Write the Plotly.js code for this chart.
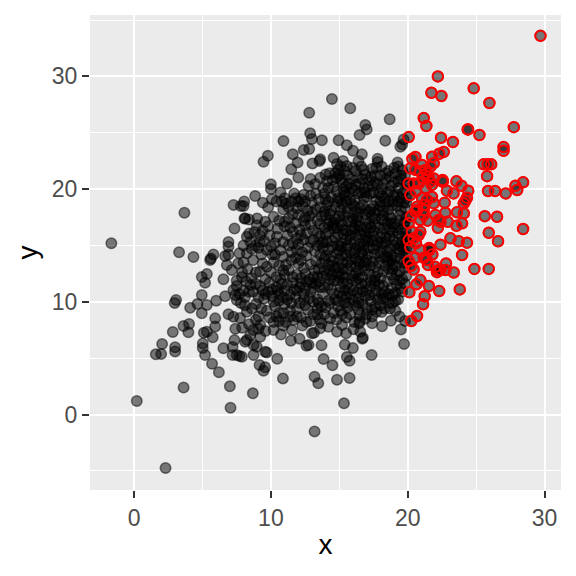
<!DOCTYPE html>
<html><head><meta charset="utf-8">
<script src="https://cdn.plot.ly/plotly-3.0.1.min.js"></script>
<style>html,body{margin:0;padding:0;background:#fff}</style></head>
<body><div id="chart" style="width:576px;height:576px"></div>
<script>
var xTicks=[0,10,20,30];
var yTicks=[0,10,20,30];
var sparseLeft=[[-1.66,15.2],[0.2,1.2],[2.3,-4.75],[3.62,2.4],[3.68,17.9],[3.29,14.4],[4.34,13.98],[1.59,5.34],[1.98,5.37],[2.05,6.26],[3,5.96],[3,5.6],[2.83,7.32],[3.61,7.85],[4.02,8.03],[3.97,7.3],[3.07,10.16],[2.97,9.9],[4.1,9.48],[4.63,9.8],[5.32,9.72],[4.95,8.98],[4.95,10.6],[5.32,12.47],[4.95,12.2],[5.19,11.7],[6.53,12],[5.8,14.2],[5.56,13.7],[5.62,13.85],[6.66,14.06],[6.9,14.2],[6.9,15.3],[6.9,14.9],[7.34,16.5],[7.27,18.6],[8,18.5],[8.07,17.4],[6,10.1],[6.66,10.5],[5.93,8.53],[5.93,7.8],[5.32,7.35],[5.1,7.25],[5.75,6.85],[5.02,6.31],[5.02,5.9],[5.19,5.28],[6.53,5.87],[7.2,6],[7.34,6.6],[8.12,6.46],[7.5,5.28],[7.2,5.28],[7.7,5.2],[5.7,4.5],[6.2,3.75],[7,2.5],[7.05,0.6],[8.68,1.88],[9.58,4.19],[9.46,3.89],[9.17,4.39],[9.58,5.57],[8.73,5.28],[7.88,5.13],[9.7,5.5],[8.97,6.02],[8.24,6.61],[8.73,6.17],[8.49,7.05],[9.22,6.9],[9.22,7.94],[10.19,7.5],[10.19,8.2],[10.92,8.98],[11.65,8.39],[11.53,7.5],[10.88,3.2],[10.46,4.95],[13.19,-1.5],[15.34,1],[13.19,3.36],[13.46,2.77],[14.83,3.09],[15.75,3.24],[13.85,4.92],[14.5,4.36],[15.75,4.77],[15.55,5.1],[17.36,5.28],[15.99,5.9],[15.4,6.2],[13.7,6.14],[19.73,6.26],[18.12,7.83],[18.77,8.32],[16.68,6.73],[16.72,6.8],[16.5,8.27],[16.45,8.1],[12.75,6.16],[12.6,6.1],[11.46,6.55],[12.09,6.73],[10.73,7.1],[13,7.2],[13.15,7.25],[13.6,7.65],[14.2,7.79],[14.83,7.35],[15.2,7.94],[15.5,7.2],[16.04,7.56],[16.53,7.35],[14.34,8.54],[13.55,8.45],[19.5,7.55],[19.8,8.3],[19.4,8.7],[19.1,9.2]];
var upperMiddle=[[14.46,28],[15.8,27.17],[12.8,26.78],[16.9,25.7],[17,25.3],[16.48,24.8],[18.68,26.2],[12.87,24.95],[13,24.45],[10.92,24.27],[13.73,24.33],[14.95,24.33],[15.55,23.9],[16,23.4],[16.65,23.1],[18.36,24.3],[19.7,24.4],[19.46,23.76],[19.6,23.95],[11.6,23.1],[12.4,23.47],[12.8,23.56],[9.78,22.96],[9.46,22.43],[11.95,22.37],[13.04,22.28],[13.6,22.64],[13.55,22.5],[14.58,22.79],[14.83,22.23],[15.27,22.5],[15.55,22.05],[16.4,22.5],[17.8,22.7],[17.8,22.4],[19.26,22.37],[11.49,21.76],[12,21.04],[10,20.43],[10,20],[11.17,20.48],[12.75,20.27],[13.24,20.45],[8.85,19.39],[8.05,18.9],[7.8,18.5],[15,21.25],[9.41,18.8],[9.8,18.4],[10.07,19.1],[8.12,17.4],[8.4,17.3],[8.97,16.8],[9.58,17.1],[10.2,17.55],[9.2,15.9],[8.24,15.77],[8.4,16.05],[8.85,15],[9.7,14.6],[8.24,14.3],[10.43,15.77],[10.92,14]];
var midFill=[[7.5,10.16],[7.26,8.68],[7.75,8.56],[6.9,8.9],[7.26,11.05],[7.5,11.4],[7.4,10.6],[7.8,9.9],[8.24,9.12],[8,11],[7.5,11.9],[7.88,12.2],[6.78,13.27],[7.14,12.82],[7.6,13.4],[8.3,12.9],[8.6,12.1],[8.1,10.4],[8.7,10.9],[8.9,9.8],[9.2,11.4],[9.5,10.3],[9.9,11.7],[9.1,8.7],[9.7,9.2],[10.3,9.6],[10.6,10.7],[11,9.8],[11.4,10.6],[11.2,11.5],[10.4,12.2],[10.9,12.8],[11.6,12.2],[12.1,11.3],[12.4,10.2],[12.7,9.3],[12.9,10.9],[13.3,11.6],[13.5,9.9],[13.1,8.9],[12.2,8.6],[11.9,9.4],[10.6,9],[12.5,12.5],[13.2,12.8],[12,13.4],[11.5,13.7],[10.2,13.5],[9.7,13.1],[9.2,12.7],[8.7,13.7],[9.3,14.2],[10,14.9],[10.7,14.6],[11.3,15],[11.9,14.6],[12.6,14.1],[13.2,14.5],[13.7,13.4],[12.9,15.3],[12.2,15.9],[11.6,16.2],[11,16.7],[10.5,16.5],[9.9,15.9],[9.4,16.3],[12.5,16.8],[13.1,16.3],[13.6,15.8],[11.3,17.4],[12,17.7],[12.8,17.6],[13.4,17.2],[10.9,18.2],[11.5,18.9],[12.3,18.5],[13,18.8],[13.6,18.4],[10.4,18.9],[11.7,19.6],[12.4,19.5],[13.3,19.6],[13.8,20.1],[12.9,20.9],[13.6,21],[14,19.1],[14.1,20.7],[10.7,19.7],[11,19.2],[9.1,14.8],[8.5,15.3],[8,15],[7.7,14.3],[8.8,16.2],[9.6,12],[10.1,10.5],[10.8,11.6],[11.7,11.1],[12.6,11.8],[13.8,10.7],[13.4,10.2],[13.8,12.3],[14,9.5],[14.2,10.1],[13.9,8.9],[12.3,7.9],[11.1,8.2],[8.4,8],[8.9,8.4],[7.9,7.7],[7.4,7.6],[8.2,11.8],[9.1,10.4],[10.6,13.2],[11.9,15.6],[13.8,14.8],[13.9,16.6],[13.3,13.6],[12.4,13],[11.1,13.3],[9.9,8.6]];
var midDark=[[10.8,18.9],[11.3,18.4],[11.6,17.8],[12,18.9],[12.4,17.2],[12.7,18.1],[11,17.1],[11.4,16.6],[11.8,17],[12.1,16.4],[12.6,16.1],[12.9,16.9],[13,17.9],[13.3,18.2],[11.2,15.9],[11.6,15.2],[12,15.1],[12.4,15.5],[12.7,14.8],[13.1,15.5],[10.9,15.3],[12.2,19.1],[12.9,19.4],[13.5,19.1],[13.7,17.6],[13.6,16.9],[13.4,16.1],[13.8,15.3],[11.9,18.3],[12.5,18.9],[10.1,11.1],[10.4,11.3],[10.7,12],[11,12.4],[11.3,12.8],[11.6,11.7],[11.9,12.4],[12.2,12.1],[12.5,11.2],[12.8,12],[13.1,11.2],[13.4,12.2],[13.6,11.3],[9.8,10.9],[10.2,10],[10.6,10.1],[10.9,10.4],[11.2,10.2],[11.5,9.9],[11.8,10.4],[12.1,9.9],[12.5,9.7],[12.8,10.3],[13.1,10],[13.4,9.4],[13.7,9.6],[10.5,11],[11,11],[11.9,11],[12.4,10.7],[13,11.7],[13.5,11.8],[13.9,11.3],[13.9,13.8],[13.5,12.9],[13.6,14.2],[12.9,13.3],[12.3,14.4],[8.9,11.6],[8.4,10.9],[9.4,11],[9.6,10.7],[9.3,9.4],[8.6,9.4],[8.1,9.7],[7.7,10.7],[8.9,12.6],[8.5,11.5],[9.4,13.4],[10,12.6],[10.3,14.2],[11.8,13.9],[12.2,13.7],[13.7,15.2],[14,14.1],[13.9,12.8],[14,17.7],[13.9,18],[14,16],[13.9,19.6],[14,21.3],[10.4,8.7],[11.4,9.2],[12.9,8.3],[13.4,8.9],[9.6,7.4],[8.7,7.5],[10.9,7.9],[11.9,8.7],[12.6,8.2],[13.7,8.1],[7.9,12.6],[8,13.5],[8.6,14.7],[9.2,15.3],[10.3,15.2],[10.6,17.2],[9.8,16.7],[9,17.4],[9.5,15.4],[10.1,14.2],[11.5,14.4],[12.2,11.6],[11.4,8.7],[9.1,7.6],[10.6,8.3],[13.1,12.2],[13.4,15],[12.5,17.5],[11.8,19.2],[11.1,18.7]];
var core=[[14.3,21.4],[14.9,21.7],[15.6,21.2],[16.2,21.6],[16.9,21.3],[17.4,21.8],[18,21.2],[18.6,21.6],[19.1,21.4],[19.6,21.7],[14.5,20.8],[15.2,20.6],[15.9,20.9],[16.5,20.5],[17.2,20.8],[17.8,20.4],[18.4,20.9],[19,20.6],[19.5,20.9],[14.2,20.1],[14.8,19.8],[15.5,20.2],[16.1,19.9],[16.8,20.1],[17.5,19.7],[18.1,20],[18.7,19.8],[19.3,20.1],[19.8,19.9],[14.4,19.3],[15.1,19.1],[15.4,19.4],[16.4,19.6],[17,19.3],[17.7,19],[18.3,19.2],[18.9,18.9],[19.5,19.2],[14.1,18.6],[14.7,18.4],[15.2,18.7],[16.5,18.3],[16.7,18.6],[17.3,18.2],[18,18.5],[18.6,18.2],[19.2,18.5],[19.8,18.3],[14.3,17.8],[15,17.6],[15.6,17.9],[16.3,17.5],[16.9,17.8],[17.6,17.4],[18.2,17.7],[18.8,17.4],[19.4,17.7],[19.9,17.5],[14.6,17],[15.2,16.8],[15.9,17.1],[16.5,16.7],[17.2,17],[17.9,16.6],[18.5,16.9],[19.1,16.6],[19.7,16.9],[14.2,16.2],[14.9,16],[15.5,16.3],[16.2,15.9],[16.8,16.2],[17.5,15.8],[18.1,16.1],[18.7,15.8],[19.3,16.1],[19.9,15.8],[14.5,15.4],[15.2,15.2],[15.8,15.5],[16.5,15.1],[17.1,15.4],[17.8,15.3],[18.4,15.3],[19,15],[19.6,15.3],[14.2,14.6],[14.8,14.3],[15.5,14.7],[16.1,14.3],[16.8,14.6],[17.1,14.2],[18.5,14.5],[18.8,14.1],[19.4,14.4],[19.9,14.1],[14.5,13.6],[15.2,13.4],[15.9,13.8],[16.5,13.4],[17,13.7],[18.4,13.2],[18.6,13.6],[19.1,13.2],[19.7,13.5],[14.3,12.8],[14.9,12.5],[15.6,12.9],[16.2,12.5],[16.9,12.8],[17.6,12.2],[18.2,12.7],[18.8,12.4],[19.4,12.7],[14.6,11.9],[15.3,11.7],[15.9,12],[16.6,11.6],[17.3,11.9],[17.9,11.5],[18.5,11.8],[19.2,11.5],[14.4,11.1],[15,10.8],[15.7,11.2],[16.3,10.8],[17,11],[17.6,10.6],[18.3,10.9],[18.9,10.6],[19.6,10.9],[14.7,10.2],[15.4,9.9],[16,10.2],[16.7,9.8],[17.3,10.1],[18,9.7],[18.6,9.9],[15.1,9.2],[15.8,8.9],[16.4,9.3],[17,8.9],[17.7,9.1],[14.6,9],[14.8,8.4],[15.5,8.6],[16.1,8.2],[16.9,8.5],[17.4,8.1],[19.5,11.2],[19.8,11.6],[19.9,12.3],[19.3,10.2],[14.8,21],[15.3,20],[16.4,21],[17.6,20.6],[18.7,21.1],[19.2,19.5],[18.4,18.7],[17.2,18],[16.1,18],[15.1,18.1],[14.7,17.3],[15.9,16.4],[17,16.6],[18.3,17.2],[19.5,16.4],[18.9,15.5],[17.7,15],[16.4,14.9],[15.1,14.9],[14.9,13.1],[16.2,13.1],[16.8,13.2],[18.8,13.7],[19.5,14.9],[15.4,12.2],[16.7,12.2],[18,12.1],[19,12],[15.5,10.4],[16.9,10.5],[18.2,10.3],[14.2,13.3],[14.1,15.3],[14.3,17.2],[19.7,18.8],[19.9,20.5],[19.8,21.2],[18.1,22],[16.6,22],[15.1,22],[14.6,16.5],[16.6,16],[18.4,15.7],[19.8,13],[17.5,16.3],[16,17.4],[18,18.9],[15.7,19.7],[17.3,21.1],[19.3,22]];
var coreDark=[[14.6,20.2],[15.1,20.9],[15.7,20.5],[16.2,20.4],[16.7,20.9],[17.1,20.2],[17.6,21.2],[18.2,20.5],[18.8,20.3],[19.3,20.7],[14.9,19.2],[15.5,18.9],[16.8,19.2],[17.3,19.6],[17.9,19.6],[18.5,19.7],[19,19.4],[19.6,19.6],[14.4,18.1],[14.9,18.9],[15.6,18.3],[16.9,18.2],[17.5,18.5],[18.2,18.1],[18.9,18.6],[19.5,18.1],[14.5,16.8],[15.1,17.1],[15.6,17.2],[16.2,16.9],[16.9,17.2],[17.6,17.9],[18.1,17.3],[18.8,17],[19.3,17.2],[19.8,17.1],[14.7,15.7],[15.3,16],[15.8,15.9],[16.4,16.3],[17,15.7],[17.3,16.6],[18.3,16.5],[18.9,16.2],[19.6,15.8],[14.5,14.9],[15,14.6],[15.6,15],[16.2,14.7],[16.8,15.1],[18.2,14.9],[18.7,14.7],[19.2,15.2],[19.7,14.6],[14.4,14],[15,13.8],[15.5,14.1],[16.2,13.8],[16.7,14.1],[18.5,14],[19.1,13.9],[19.5,13.8],[14.7,13],[15.3,12.9],[15.8,13.2],[16.4,12.8],[17.2,12.5],[18.6,12.9],[19.2,12.4],[14.3,12],[14.9,11.9],[15.6,11.6],[16.2,11.9],[16.9,11.6],[17.6,11.6],[18.2,11.4],[18.8,11.2],[19.4,11.9],[14.6,10.7],[15.2,10.5],[15.8,10.7],[16.4,10.3],[17.2,10.6],[17.8,10.2],[18.4,10.4],[19.1,10.8],[14.9,9.6],[15.6,9.5],[16.2,9.7],[17,9.5],[17.6,9.6],[18.3,9.4],[15.2,8.9],[16.5,8.8],[17.4,8.7],[14.2,11.5],[14.1,12.4],[14.2,16.9],[14.2,18.9],[14.7,21.4],[15.4,21.6],[16,21.9],[16.8,21.7],[17.7,21.9],[18.4,21.4],[19,21.9],[19.5,21.2],[19.9,19.2],[19.9,18.8],[19.85,16.3],[19.85,15.4],[19.9,14.7],[19.9,13.4],[15.9,20.1],[16.6,19.7],[17.4,20.3],[18.6,18.9],[19.3,18.9],[15.3,17.7],[16.4,17.9],[17.4,17.5],[18.6,17.7],[15.3,16.4],[16.1,16.5],[17.2,16.1],[18,15.7],[19,16.9],[14.9,15],[16.1,15.3],[16.6,14.4],[18.1,15.2],[15.2,14.1],[15.8,14.4],[16.4,13.6],[18.9,13.3],[15,12.2],[16,12.3],[16.5,11.2],[17.8,12.6],[19.1,10.1],[15.1,11.3],[16.7,10.9],[17.7,11],[18.6,10.7],[14.5,12.4],[14.3,9.9],[15.7,9.9],[16.4,9.9],[17.4,9.3],[18.7,9.4],[18.1,9.1],[15.9,18.7],[16.1,18.5],[15.8,19.05],[16.15,19],[17.6,14.25],[17.45,13.55],[17.65,13.1],[17.5,14.7],[17.95,14],[17.25,13.2],[17.9,13.5],[18,14.4],[17.2,14.8],[15.35,19.7],[16.9,19.7],[18.1,19.4],[17.8,18.1],[16.4,17.2],[14.8,16.6],[17.6,16.9],[18.7,16.4],[15.5,15.5],[16.9,15.5],[17.4,15.4],[19.3,14.7],[15.6,13.5],[16.9,13.5],[18.3,13.9],[14.5,13.2],[15.2,12.4],[16.4,12.1],[17.6,11.9],[18.9,12.9],[19.6,12],[15.4,11],[18.1,10.7],[16,11],[17.3,11.4],[14.9,10.1],[18.9,9.9]];
var redOnly=[[29.7,33.6],[22.2,30],[21.73,28.55],[22.46,28.26],[24.82,28.94],[25.97,27.64],[21.17,26.3],[21.36,25.6],[27.75,25.5],[24.41,25.3],[24.38,25.3],[25.24,24.8],[22.43,24.56],[23.3,24.18],[20.07,24.62],[27,23.73],[27,23.4],[22.63,23.3],[22.3,23.14],[21.78,22.87],[20.56,22.85],[20.34,22.67],[25.55,22.2],[25.84,22.2],[26.1,22.2],[25.8,21.15],[28.43,20.6],[27.87,20.3],[28,19.92],[25.87,19.83],[26.38,19.83],[27.16,19.62],[22.55,20.8],[22.56,20.65],[23.56,20.69],[23.93,20.3],[24.42,19.86],[22.86,19.86],[23.35,19.62],[24.33,19.24],[24.21,18.97],[24.09,18.73],[22.7,18.8],[22.75,17.9],[23.6,17.94],[24.1,17.85],[25.63,17.6],[26.53,17.55],[23.97,16.96],[23.56,16.75],[22.92,17.1],[22.27,17.26],[22.4,17.1],[22.2,16.57],[28.43,16.46],[25.92,16.13],[26.6,15.37],[23.12,15.63],[23.72,15.37],[24.33,15.25],[22.39,15.07],[23.97,14.15],[21.56,14.77],[21.58,14.6],[21.6,14.7],[20.19,14.83],[20.92,14.6],[20.56,13.9],[20.07,13.62],[21.17,13.9],[21.4,13.7],[21.48,13.27],[22,13.1],[22.8,13.4],[22.75,12.82],[23.36,12.6],[22.14,12.63],[22.25,12.8],[22.4,12.85],[20.43,12.87],[24.87,12.92],[25.92,12.92],[20.92,11.93],[20.63,11.55],[21.54,11.4],[22.3,10.95],[23.8,11.1],[20.12,10.84],[21.24,10.5],[21.12,9.78],[20.68,8.74],[20.26,8.3],[20.19,21.84],[20.56,21.7],[20.92,21.55],[21.29,21.7],[21.66,22],[21.05,22.14],[21.9,22.3],[20.07,20.5],[20.43,20.5],[20.8,20.5],[21.53,21.1],[21.66,20.66],[21.77,20.37],[21.9,20.95],[20.19,19.47],[21.05,19.18],[21.77,19.3],[21.41,19.03],[20.68,18.15],[20.56,18],[21.17,18.15],[21.17,17.7],[21.9,18.74],[22.02,17.7],[20.92,17.26],[20.07,16.96],[20.31,16.22],[20.92,16.22],[20.43,15.63],[20.8,15.92],[20.07,15.48],[21.17,18.59],[20.68,18.44],[21.41,21.4],[21.1,21],[20.6,19.8],[21.3,20.1],[20.25,17.6],[21.45,17.2],[20.6,15.2],[20.25,13.2],[21.8,14.2]];

var allPoints=sparseLeft.concat(upperMiddle,midFill,midDark,core,coreDark,redOnly);
function col(a,i){return a.map(function(p){return p[i];});}
var traces=[
 {type:'scatter',mode:'markers',x:col(allPoints,0),y:col(allPoints,1),hoverinfo:'skip',
  marker:{size:10.5,color:'rgba(0,0,0,0.5)',line:{color:'rgba(0,0,0,0.5)',width:1.5}}},
 {type:'scatter',mode:'markers',x:col(redOnly,0),y:col(redOnly,1),hoverinfo:'skip',
  marker:{size:10.5,symbol:'circle-open',color:'#ff0000',line:{color:'#ff0000',width:2}}}
];
function axis(range,vals,title,standoff){return {
  range:range,tickmode:'array',tickvals:vals,ticktext:vals.map(String),
  ticks:'outside',ticklen:7,tickwidth:2,tickcolor:'#333333',
  tickfont:{family:'Liberation Sans, Arial, sans-serif',size:23,color:'#4D4D4D'},
  showgrid:true,gridcolor:'#FFFFFF',gridwidth:2,zeroline:false,showline:false,
  minor:{tickmode:'array',tickvals:[-5,5,15,25,35],showgrid:true,gridcolor:'#FFFFFF',gridwidth:1,ticks:''},
  automargin:false,title:{text:title,standoff:standoff,font:{family:'Liberation Sans, Arial, sans-serif',size:28,color:'#000000'}}
};}
var layout={width:576,height:576,showlegend:false,paper_bgcolor:'#FFFFFF',plot_bgcolor:'#EBEBEB',
 margin:{l:90,r:15,t:15,b:86},
 xaxis:axis([-3.22,31.2],xTicks,'x',4),
 yaxis:axis([-6.7,35.45],yTicks,'y',6)};
Plotly.newPlot('chart',traces,layout,{displayModeBar:false,staticPlot:true});
</script></body></html>
